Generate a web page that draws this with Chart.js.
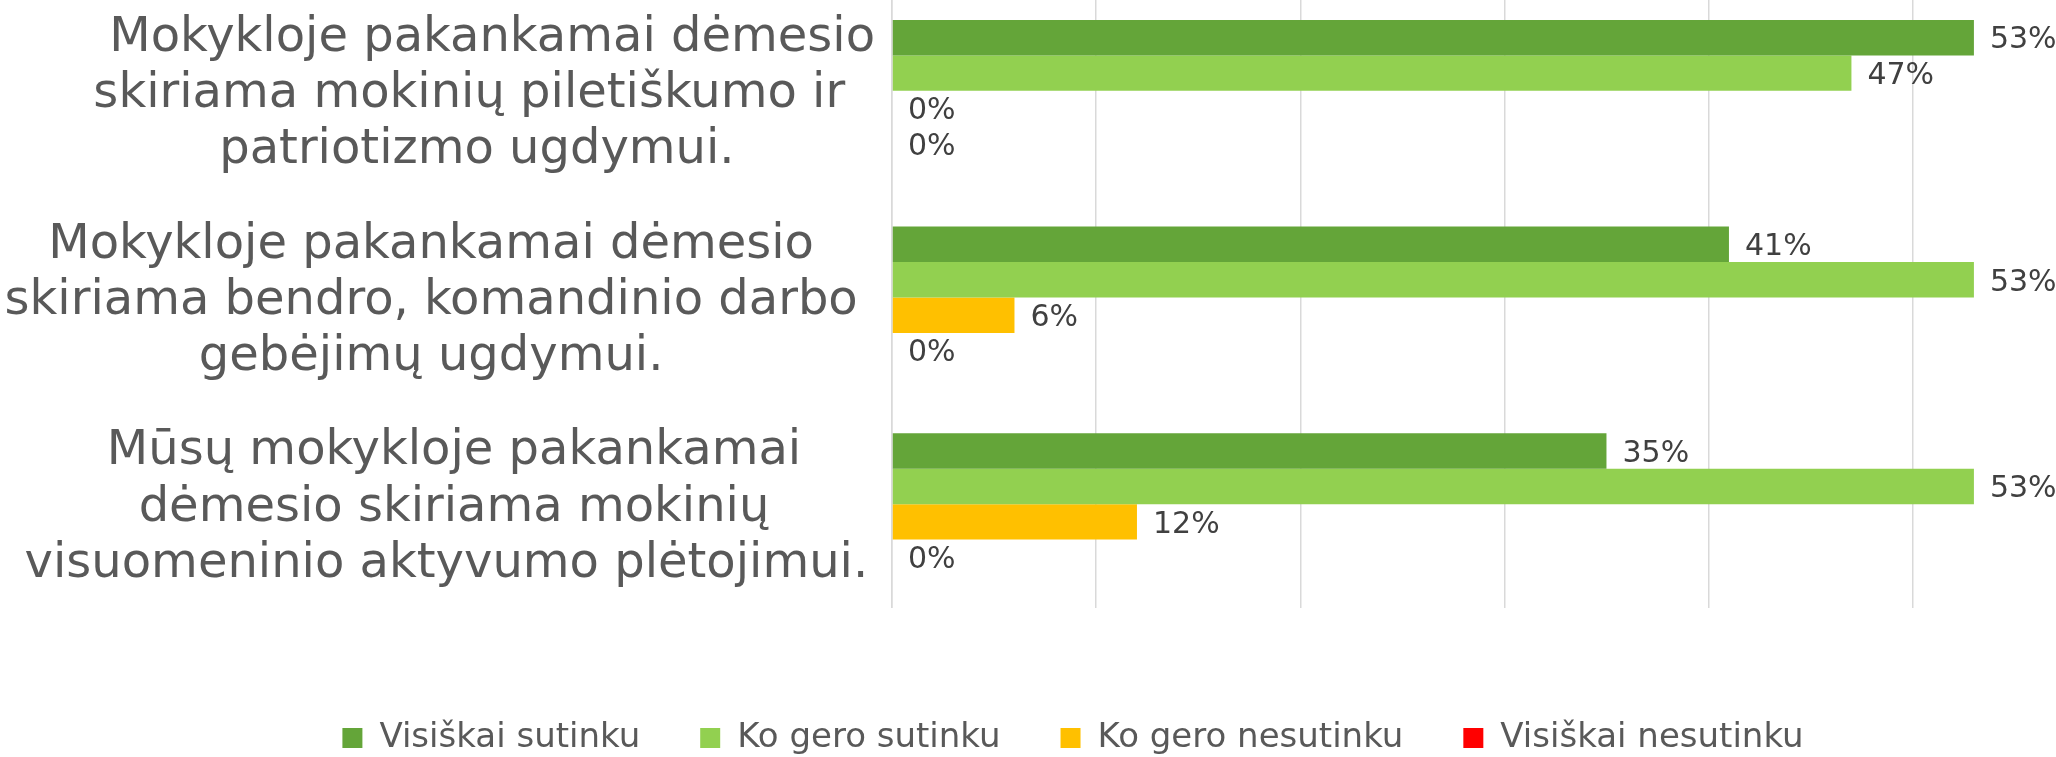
<!DOCTYPE html>
<html><head><meta charset="utf-8">
<script src="https://cdn.jsdelivr.net/npm/chart.js@4"></script>
<style>
html,body{margin:0;padding:0;background:#fff;overflow:hidden;width:2056px;height:757px;}
#wrap{position:absolute;left:0;top:-40px;width:2146px;height:805px;}
canvas{display:block;}
</style></head><body>
<div id="wrap"><canvas id="c" width="2146" height="805" style="width:2146px;height:805px"></canvas></div>
<script>
// ---- data ----
const categories = [
  ["Mokykloje pakankamai dėmesio", "skiriama mokinių piletiškumo ir", "patriotizmo ugdymui."],
  ["Mokykloje pakankamai dėmesio", "skiriama bendro, komandinio darbo", "gebėjimų ugdymui."],
  ["Mūsų mokykloje pakankamai", "dėmesio skiriama mokinių", "visuomeninio aktyvumo plėtojimui."]
];
const seriesNames = ["Visiškai sutinku", "Ko gero sutinku", "Ko gero nesutinku", "Visiškai nesutinku"];
const visiskaiSutinku   = [53, 41, 35];
const koGeroSutinku     = [47, 53, 53];
const koGeroNesutinku   = [0, 6, 12];
const visiskaiNesutinku = [0, 0, 0];
const seriesValues = [visiskaiSutinku, koGeroSutinku, koGeroNesutinku, visiskaiNesutinku];

// ---- styling ----
const colors = ["#64A539", "#92D050", "#FFC000", "#FF0000"];
const labelIndent = [[8, 5, 6], [0, 0, 0], [3, 3, 2]]; // leading spaces per label line
const FONT = "DejaVu Sans";

const valueLabels = {
  id: 'valueLabels',
  afterDatasetsDraw(chart) {
    const ctx = chart.ctx;
    ctx.save();
    ctx.font = '30px "' + FONT + '"';
    ctx.fillStyle = '#404040';
    ctx.textBaseline = 'middle';
    ctx.textAlign = 'left';
    chart.data.datasets.forEach((ds, i) => {
      chart.getDatasetMeta(i).data.forEach((el, j) => {
        ctx.fillText(ds.data[j] + '%', el.x + 16, el.y + 3);
      });
    });
    ctx.restore();
  }
};

new Chart(document.getElementById('c'), {
  type: 'bar',
  data: {
    labels: categories,
    datasets: seriesNames.map((n, i) => ({
      label: n,
      data: seriesValues[i],
      backgroundColor: colors[i],
      borderWidth: 0,
      categoryPercentage: 0.686,
      barPercentage: 1
    }))
  },
  options: {
    indexAxis: 'y',
    responsive: false,
    animation: false,
    layout: { autoPadding: false, padding: { top: 27.5, left: 0, right: 0, bottom: 0 } },
    plugins: {
      legend: {
        position: 'bottom',
        labels: {
          boxWidth: 20, boxHeight: 20, padding: 60, color: '#595959',
          font: { family: FONT, size: 34 }
        }
      },
      tooltip: { enabled: false }
    },
    scales: {
      x: {
        min: 0, max: 61.43,
        ticks: { display: false, stepSize: 10 },
        grid: { color: '#d9d9d9', lineWidth: 1.5, drawTicks: false },
        border: { display: false },
        afterFit: s => { s.height = 53.5; s.paddingLeft = 0; s.paddingRight = 0; }
      },
      y: {
        ticks: {
          crossAlign: 'center', padding: 17, color: '#595959', labelOffset: 4,
          font: { family: FONT, size: 48, lineHeight: 1.17 },
          callback: function (value, index) {
            const lines = categories[index];
            return lines.map((t, k) => ' '.repeat(labelIndent[index][k]) + t);
          }
        },
        grid: { display: false, drawTicks: false },
        border: { display: true, color: '#d9d9d9', width: 1.5 },
        afterFit: s => { s.width = 892; s.paddingTop = 0; s.paddingBottom = 0; }
      }
    }
  },
  plugins: [valueLabels]
});
</script>
</body></html>
